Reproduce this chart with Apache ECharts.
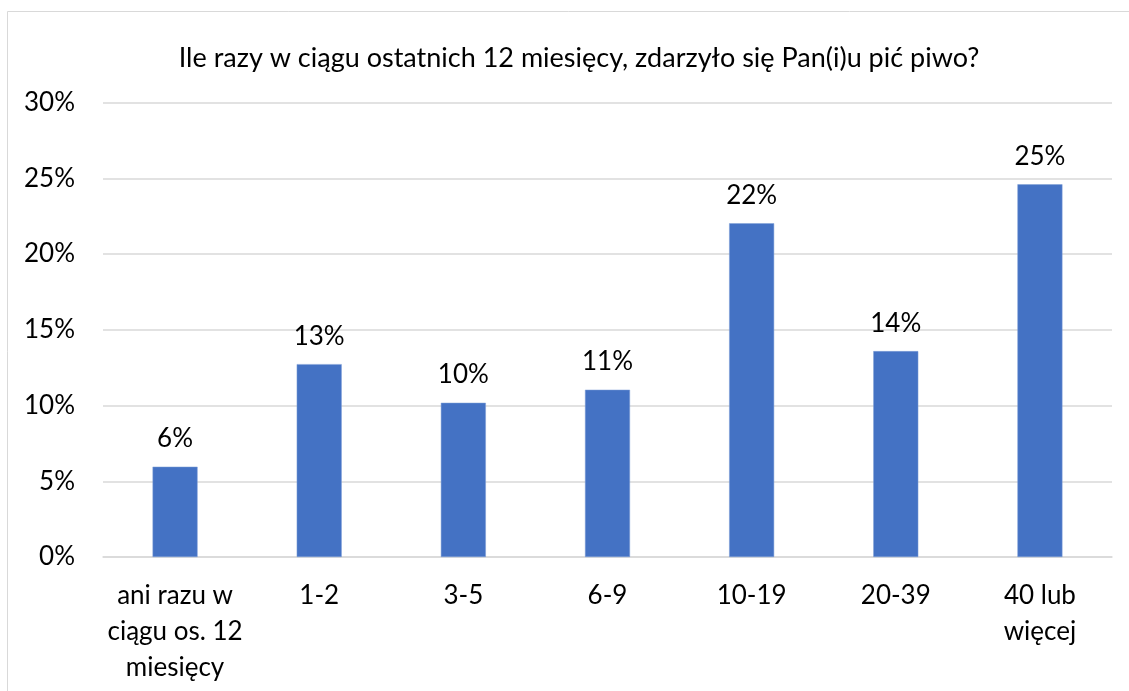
<!DOCTYPE html>
<html><head><meta charset="utf-8">
<script src="https://cdn.jsdelivr.net/npm/echarts@6/dist/echarts.min.js"></script>
<style>html,body{margin:0;padding:0;background:#fff}#c{width:1129px;height:691px}</style>
</head><body><div id="c"></div>
<script>
const titleText = 'Ile razy w ciągu ostatnich 12 miesięcy, zdarzyło się Pan(i)u pić piwo?';
const categories = ['ani razu w\nciągu os. 12\nmiesięcy', '1-2', '3-5', '6-9', '10-19', '20-39', '40 lub\nwięcej'];
const values = [5.96, 12.73, 10.18, 11.04, 22.03, 13.59, 24.60];
const yTicks = [0, 5, 10, 15, 20, 25, 30];

const FONT = 'Lato, "Open Sans", sans-serif';
const chart = echarts.init(document.getElementById('c'));
chart.setOption({
  animation: false,
  backgroundColor: '#fff',
  graphic: [{
    type: 'rect', shape: {x: 7.5, y: 11.5, width: 1300, height: 900},
    style: {fill: 'none', stroke: '#d9d9d9', lineWidth: 1}, silent: true, z: -1
  }],
  title: {
    text: titleText, left: 574, top: 40, textAlign: 'center',
    textStyle: {fontFamily: FONT, fontSize: 27, fontWeight: 'normal', color: '#000'}
  },
  grid: {left: 103, right: 17, top: 102.5, bottom: 134, containLabel: false},
  xAxis: {
    type: 'category', data: categories,
    axisLine: {show: true, lineStyle: {color: '#d9d9d9', width: 1.5}},
    axisTick: {show: false},
    axisLabel: {fontFamily: FONT, fontSize: 26, color: '#000', lineHeight: 36, margin: 21, interval: 0}
  },
  yAxis: {
    type: 'value', min: yTicks[0], max: yTicks[yTicks.length - 1], interval: 5,
    axisLine: {show: false}, axisTick: {show: false},
    splitLine: {lineStyle: {color: '#d9d9d9', width: 1.5}},
    axisLabel: {fontFamily: FONT, fontSize: 26, color: '#000', margin: 28, formatter: v => v + '%'}
  },
  series: [{
    type: 'bar', data: values, barWidth: 45,
    itemStyle: {color: '#4472c4', borderColor: '#7f9fd6', borderWidth: 0.5},
    label: {
      show: true, position: 'top', distance: 15,
      fontFamily: FONT, fontSize: 26, color: '#000',
      formatter: p => Math.round(p.value) + '%'
    }
  }]
});
</script></body></html>
